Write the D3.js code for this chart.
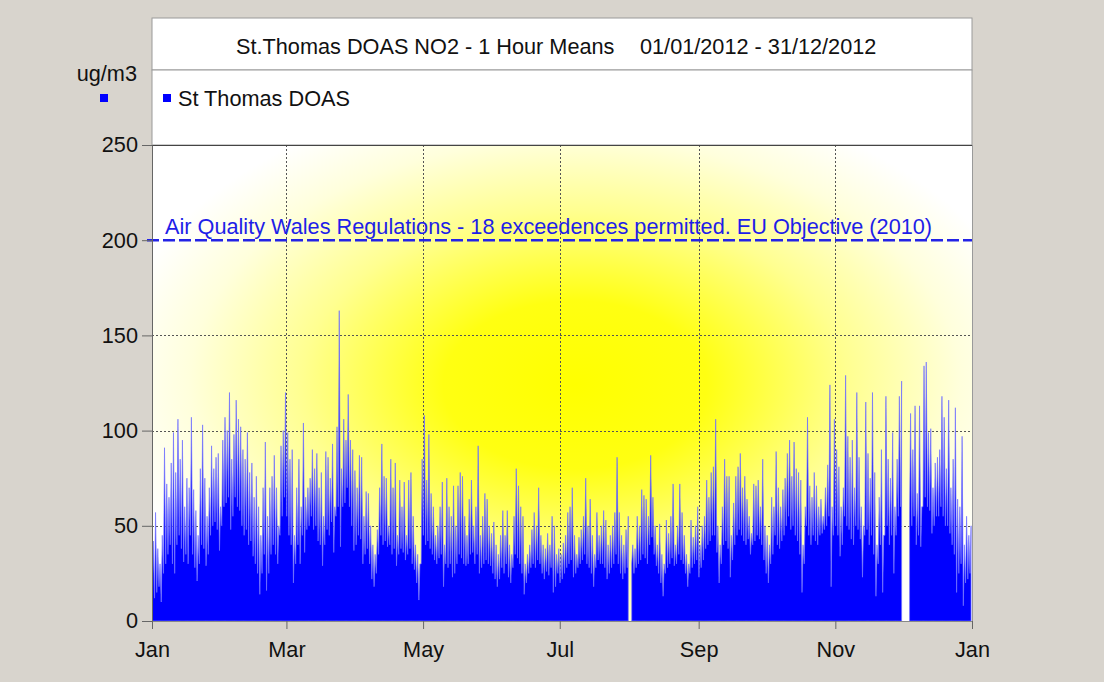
<!DOCTYPE html>
<html>
<head>
<meta charset="utf-8">
<script src="https://cdn.jsdelivr.net/npm/d3@7"></script>
<style>
  html, body { margin: 0; padding: 0; background: #d8d4cd; }
  svg { display: block; font-family: "Liberation Sans", Arial, sans-serif; }
</style>
</head>
<body>
<div id="chart"></div>
<script>
// Daily highest / lowest hourly NO2 (ug/m3), one line per month
const dailyMax = [
  42,57,38,30,45,91,72,65,83,99,78,106,85,95,60,75,70,107,69,58,45,80,103,75,55,70,92,80,86,88,60,          // Jan
  95,107,100,120,85,98,116,106,102,90,85,99,78,83,65,76,60,45,70,94,55,70,76,87,70,50,92,100,120,           // Feb
  99,85,90,45,70,85,60,104,65,70,75,90,80,88,70,78,55,89,86,75,93,60,102,163,80,106,95,119,95,90,79,        // Mar
  70,87,86,55,68,67,50,40,35,48,70,93,76,75,50,85,70,83,45,74,60,73,45,74,78,55,40,35,30,85,                // Apr
  108,74,98,67,60,45,50,60,73,40,75,60,55,71,50,71,78,76,55,45,64,74,50,60,92,45,55,67,64,50,46,            // May
  52,40,35,45,58,45,58,40,35,55,80,71,60,55,30,35,40,48,57,50,70,45,40,38,46,40,55,50,35,38,                // Jun
  35,41,45,57,60,70,45,35,44,48,55,75,50,64,45,35,57,45,50,58,53,40,45,50,57,86,57,45,40,48,55,             // Jul
  null,40,38,55,50,69,66,64,55,87,65,50,40,51,35,30,53,46,55,72,40,50,72,57,45,35,30,53,44,50,60,           // Aug
  40,50,55,74,65,78,81,106,50,40,60,85,76,76,45,62,76,81,88,70,76,64,55,46,72,71,74,60,85,50,               // Sep
  45,40,65,60,89,70,60,69,75,88,95,76,94,80,78,74,40,60,107,71,65,78,71,60,64,55,70,82,124,60,106,          // Oct
  90,81,60,70,129,97,86,95,70,120,86,60,50,115,88,75,120,78,40,65,90,45,118,85,75,99,60,85,118,126,         // Nov
  null,null,null,109,90,113,67,113,60,134,136,99,101,70,83,86,90,118,107,80,116,70,85,112,64,60,97,40,55,45,50 // Dec
];
const dailyMin = [
  20,12,15,18,10,25,30,35,40,30,25,40,45,38,31,35,30,45,35,28,21,30,40,38,29,35,45,50,52,48,37,
  50,60,62,65,48,55,65,60,58,50,45,48,40,42,34,30,25,14,25,35,16,25,35,40,35,30,45,55,65,
  55,45,40,20,30,40,30,45,36,48,50,55,48,50,42,40,29,40,48,45,52,36,55,60,39,60,62,70,60,50,37,
  40,45,43,30,35,38,30,22,18,25,35,45,40,42,39,40,35,38,29,35,38,36,32,35,38,30,27,20,11,30,
  45,40,42,38,35,32,30,33,35,18,30,28,30,23,25,30,35,33,30,29,30,35,36,30,35,25,28,30,32,30,29,
  25,22,18,22,28,25,30,23,20,28,35,33,30,25,14,20,25,28,30,28,32,30,25,22,26,24,28,15,18,25,
  20,22,25,28,30,32,23,25,28,30,32,35,30,28,25,18,28,32,30,30,28,22,25,28,30,35,30,25,22,25,28,
  null,30,25,28,30,32,35,33,30,40,44,35,29,25,20,13,25,28,30,33,29,30,35,32,30,25,18,25,28,30,32,
  23,28,32,38,40,42,45,45,36,20,30,40,42,38,23,32,40,45,48,45,42,40,43,35,40,42,45,43,40,32,
  25,20,30,35,45,40,38,42,45,50,55,48,50,45,42,35,15,30,50,45,40,45,42,40,45,46,48,50,55,18,45,
  50,45,34,40,55,50,48,43,40,50,48,43,23,45,48,40,45,35,13,30,40,15,45,50,40,45,25,45,55,60,
  null,null,null,55,50,55,40,45,39,60,65,60,58,46,50,55,55,60,55,50,50,46,40,35,15,25,30,8,20,22,25
];

const yTicks = [0, 50, 100, 150, 200, 250];
const gridValues = [50, 100, 150];
const limitValue = 200;
const limitLabel = "Air Quality Wales Regulations - 18 exceedences permitted. EU Objective (2010)";
const titleText = "St.Thomas DOAS NO2 - 1 Hour Means";
const periodText = "01/01/2012 - 31/12/2012";
const seriesName = "St Thomas DOAS";
const unitLabel = "ug/m3";

const W = 1104, H = 682;
const pL = 152, pR = 972, pT = 145, pB = 621;
const boxTop = 18, legendTop = 70;
const fs = 21.7;

const x = d3.scaleUtc()
  .domain([new Date(Date.UTC(2012, 0, 1)), new Date(Date.UTC(2013, 0, 1))])
  .range([pL, pR]);
const y = d3.scaleLinear().domain([0, 250]).range([pB, pT]);

// two points per day: the low of the day, then the peak
const points = [];
dailyMax.forEach((hi, d) => {
  const lo = dailyMin[d];
  points.push({ t: new Date(Date.UTC(2012, 0, 1 + d, 3)), v: lo });
  points.push({ t: new Date(Date.UTC(2012, 0, 1 + d, 14)), v: hi });
});

const svg = d3.select("#chart").append("svg")
  .attr("width", W).attr("height", H);

const defs = svg.append("defs");
const grad = defs.append("radialGradient")
  .attr("id", "glow")
  .attr("gradientUnits", "userSpaceOnUse")
  .attr("cx", 0).attr("cy", 0).attr("r", 1)
  .attr("gradientTransform", "translate(575,385) scale(470,300)");
[[0, "#ffff00"], [0.28, "#ffff12"], [0.58, "#ffff90"], [0.82, "#ffffdc"], [1, "#ffffff"]]
  .forEach(s => grad.append("stop").attr("offset", s[0]).attr("stop-color", s[1]));

defs.append("clipPath").attr("id", "plotClip")
  .append("rect").attr("x", pL).attr("y", pT)
  .attr("width", pR - pL).attr("height", pB - pT);

// background
svg.append("rect").attr("width", W).attr("height", H).attr("fill", "#d8d4cd");

// title and legend boxes
svg.append("rect").attr("x", pL).attr("y", boxTop)
  .attr("width", pR - pL).attr("height", legendTop - boxTop)
  .attr("fill", "#fff").attr("stroke", "#9a9a9a");
svg.append("rect").attr("x", pL).attr("y", legendTop)
  .attr("width", pR - pL).attr("height", pT - legendTop)
  .attr("fill", "#fff").attr("stroke", "#9a9a9a");

svg.append("text").attr("x", 236).attr("y", 54)
  .attr("font-size", fs).attr("fill", "#111").text(titleText);
svg.append("text").attr("x", 640).attr("y", 54)
  .attr("font-size", fs).attr("fill", "#111").text(periodText);

svg.append("rect").attr("x", 163).attr("y", 94).attr("width", 8).attr("height", 8).attr("fill", "#0000ff");
svg.append("text").attr("x", 178).attr("y", 105.5)
  .attr("font-size", fs).attr("fill", "#111").text(seriesName);

svg.append("text").attr("x", 137).attr("y", 81).attr("text-anchor", "end")
  .attr("font-size", fs).attr("fill", "#111").text(unitLabel);
svg.append("rect").attr("x", 100).attr("y", 94).attr("width", 8).attr("height", 8).attr("fill", "#0000ff");

// plot background
svg.append("rect").attr("x", pL).attr("y", pT)
  .attr("width", pR - pL).attr("height", pB - pT)
  .attr("fill", "url(#glow)");

// grid
const xTickDates = d3.utcMonth.every(2).range(new Date(Date.UTC(2012, 0, 1)), new Date(Date.UTC(2013, 0, 2)));
const grid = svg.append("g").attr("stroke", "#555").attr("stroke-dasharray", "2,2").attr("stroke-width", 1);
grid.selectAll("line.v").data(xTickDates.slice(1, -1)).join("line")
  .attr("class", "v")
  .attr("x1", d => Math.round(x(d)) + 0.5).attr("x2", d => Math.round(x(d)) + 0.5)
  .attr("y1", pT).attr("y2", pB);
grid.selectAll("line.h").data(gridValues).join("line")
  .attr("class", "h")
  .attr("x1", pL).attr("x2", pR)
  .attr("y1", d => Math.round(y(d)) + 0.5).attr("y2", d => Math.round(y(d)) + 0.5);

// data
const area = d3.area()
  .defined(p => p.v != null)
  .x(p => x(p.t))
  .y0(y(0))
  .y1(p => y(p.v));
svg.append("path")
  .datum(points)
  .attr("clip-path", "url(#plotClip)")
  .attr("fill", "#0000ff")
  .attr("stroke", "#7272ff")
  .attr("stroke-width", 0.7)
  .attr("d", area);

// limit line
svg.append("line")
  .attr("x1", 147).attr("x2", pR)
  .attr("y1", y(limitValue)).attr("y2", y(limitValue))
  .attr("stroke", "#2323e6").attr("stroke-width", 2.5)
  .attr("stroke-dasharray", "12,4");
svg.append("text").attr("x", 165).attr("y", 234)
  .attr("font-size", fs).attr("fill", "#1e1ee8").text(limitLabel);

// plot frame
svg.append("line").attr("x1", pL).attr("x2", pR).attr("y1", pT + 0.5).attr("y2", pT + 0.5)
  .attr("stroke", "#444");
svg.append("line").attr("x1", pR + 0.5).attr("x2", pR + 0.5).attr("y1", pT).attr("y2", pB)
  .attr("stroke", "#9a9a9a");

// axes
const yAxis = svg.append("g")
  .attr("transform", `translate(${pL},0)`)
  .call(d3.axisLeft(y).tickValues(yTicks).tickSize(10).tickPadding(4).tickFormat(d3.format("d")));
yAxis.select(".domain").attr("stroke", "#666");
yAxis.selectAll(".tick line").attr("stroke", "#666");
yAxis.selectAll("text").attr("font-size", fs).attr("fill", "#111")
  .attr("font-family", "Liberation Sans, Arial, sans-serif");

const xAxis = svg.append("g")
  .attr("transform", `translate(0,${pB})`)
  .call(d3.axisBottom(x).tickValues(xTickDates).tickSize(8).tickFormat(d3.utcFormat("%b")));
xAxis.select(".domain").attr("stroke", "#888");
xAxis.selectAll(".tick line").attr("stroke", "#666");
xAxis.selectAll("text").attr("font-size", fs).attr("fill", "#111")
  .attr("font-family", "Liberation Sans, Arial, sans-serif")
  .attr("y", 21).attr("dy", "0.71em");
</script>
</body>
</html>
